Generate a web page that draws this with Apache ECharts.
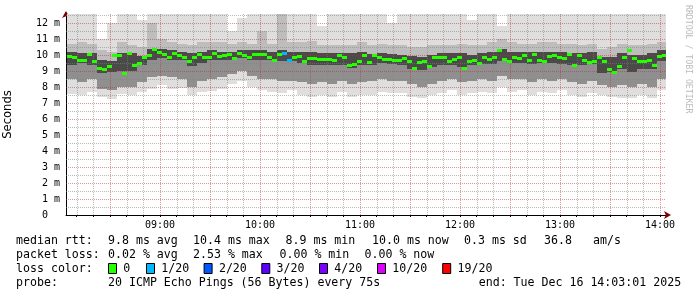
<!DOCTYPE html>
<html><head><meta charset="utf-8">
<script src="https://cdn.jsdelivr.net/npm/echarts@6/dist/echarts.min.js"></script>
<style>html,body{margin:0;padding:0;background:#fff}#c{width:697px;height:297px}</style>
</head><body><div id="c"></div>
<script>
// ---- time axis (minutes since midnight) ----
const startMin = 483.6;   // 08:03:01 (graph start)
const endMin = 843.6;     // 14:03:01 (graph end)
const yMax = 12.5625;     // ms, top of plot
const medianT0 = 484.2;   // first median sample
const medianStep = 3;     // minutes per median sample
const smokeT0 = 484.2;
const smokeStep = 6;      // minutes per smoke column

// ---- median rtt (ms), one value per 3 minutes ----
const median = [
  9.94, 9.87, 9.67, 9.67, 10.08, 9.6, 9.19, 9.15, 9.3, 10.02,
  9.98, 8.87, 10.1, 9.4, 9.5, 9.9, 9.98, 10.4, 10.2, 10.05,
  9.87, 10.15, 10.0, 9.9, 9.6, 9.9, 10.08, 9.9, 9.9, 10.1,
  9.95, 9.98, 10.05, 9.8, 10.1, 10.0, 9.9, 10.05, 10.08, 10.05,
  9.9, 9.7, 10.05, 10.1, 9.7, 9.9, 9.95, 9.6, 9.82, 9.82,
  9.75, 9.75, 9.72, 9.7, 10.0, 9.9, 9.35, 9.45, 9.6, 9.98,
  9.55, 10.0, 9.9, 9.75, 9.75, 9.7, 9.67, 9.8, 9.6, 9.2,
  9.55, 9.65, 9.3, 9.85, 9.85, 9.85, 9.6, 9.75, 9.85, 9.2,
  9.6, 9.7, 9.5, 9.85, 9.72, 9.85, 10.3, 9.75, 9.65, 9.9,
  9.8, 9.98, 9.7, 10.05, 9.7, 9.65, 9.95, 10.02, 9.9, 9.82,
  10.05, 9.4, 10.02, 9.7, 9.55, 9.6, 9.9, 9.6, 9.1, 8.92,
  9.3, 9.9, 10.3, 9.8, 9.62, 9.65, 9.7, 9.4, 9.95, 10.02
];
// [median sample index, lost pings out of 20]
const lossPoints = [[43, 1], [44, 1]];

// ---- smoke envelope (ms), one column per 6 minutes ----
const smokeTop = [
  12.6, 12.6, 12.6, 11.0, 12.0, 12.6, 12.6, 12.2, 12.6, 12.6, 12.6, 12.6, 12.6, 12.6, 12.6,
  12.6, 11.5, 12.3, 12.6, 12.6, 12.6, 12.6, 12.6, 12.6, 12.6, 11.8, 12.6, 12.6, 12.6, 12.6,
  12.6, 12.6, 12.0, 12.6, 12.6, 12.6, 12.6, 12.6, 12.6, 12.6, 12.2, 12.6, 12.6, 11.8, 12.6,
  12.6, 12.6, 12.6, 12.6, 12.6, 12.6, 12.6, 12.6, 12.6, 12.6, 12.6, 12.6, 12.6, 12.6, 12.6
];
const smokeBottom = [
  7.58, 7.48, 7.69, 7.38, 7.27, 7.58, 7.48, 7.69, 7.9, 8.1, 7.9, 7.95, 7.48, 7.69, 7.75,
  7.9, 8.2, 8.4, 8.0, 7.8, 7.7, 7.6, 7.8, 7.5, 7.4, 7.5, 7.4, 7.7, 7.4, 7.5,
  7.5, 7.7, 7.6, 7.6, 7.4, 7.3, 7.5, 7.6, 7.8, 7.5, 7.6, 7.7, 7.6, 8.0, 7.7,
  7.8, 7.5, 7.7, 7.6, 7.8, 7.5, 7.4, 7.6, 7.5, 7.4, 7.3, 7.3, 7.5, 7.3, 7.8
];
const midHi = [
  10.7, 10.8, 10.7, 10.3, 10.2, 10.8, 10.6, 10.5, 12.0, 11.0, 10.8, 10.7, 10.6, 10.8, 10.8,
  10.8, 10.7, 10.8, 10.7, 11.5, 10.7, 12.6, 10.8, 10.8, 10.9, 10.6, 10.6, 10.6, 10.6, 10.8,
  10.6, 10.7, 10.6, 10.6, 10.5, 10.5, 10.6, 10.6, 10.6, 10.7, 10.6, 10.6, 10.8, 11.0, 10.8,
  10.7, 10.7, 10.8, 10.8, 10.7, 10.7, 10.6, 10.7, 10.4, 10.5, 10.7, 10.6, 10.6, 10.7, 10.8
];
const midLo = [
  8.5, 8.3, 8.5, 7.9, 7.8, 8.0, 8.0, 8.3, 8.6, 8.7, 8.6, 8.5, 8.0, 8.4, 8.5,
  8.6, 8.8, 9.0, 8.7, 8.5, 8.5, 8.4, 8.4, 8.3, 8.2, 8.3, 8.2, 8.4, 8.2, 8.3,
  8.4, 8.5, 8.4, 8.4, 8.2, 8.0, 8.2, 8.4, 8.5, 8.3, 8.4, 8.5, 8.4, 8.7, 8.5,
  8.5, 8.3, 8.5, 8.4, 8.5, 8.3, 8.2, 8.4, 8.1, 8.0, 8.1, 8.0, 8.2, 8.0, 8.5
];
const coreHi = [
  10.2, 10.1, 10.15, 9.7, 9.6, 10.1, 10.1, 9.95, 10.4, 10.4, 10.3, 10.2, 10.1, 10.2, 10.3,
  10.2, 10.2, 10.3, 10.3, 10.3, 10.2, 10.3, 10.2, 10.2, 10.2, 10.1, 10.1, 10.1, 10.1, 10.2,
  10.05, 10.1, 10.05, 10.0, 9.95, 9.9, 10.0, 10.1, 10.1, 10.1, 10.0, 10.1, 10.2, 10.4, 10.2,
  10.2, 10.2, 10.2, 10.2, 10.2, 10.1, 10.1, 10.2, 9.85, 9.9, 10.1, 10.0, 10.0, 10.1, 10.3
];
const coreLo = [
  9.4, 9.5, 9.4, 8.9, 8.95, 9.0, 9.0, 9.35, 9.7, 9.8, 9.7, 9.7, 9.3, 9.5, 9.7,
  9.7, 9.7, 9.8, 9.7, 9.7, 9.7, 9.6, 9.6, 9.5, 9.4, 9.4, 9.35, 9.4, 9.2, 9.35,
  9.35, 9.5, 9.45, 9.35, 9.15, 9.05, 9.25, 9.4, 9.4, 9.25, 9.35, 9.45, 9.45, 9.6, 9.5,
  9.5, 9.45, 9.5, 9.5, 9.45, 9.35, 9.35, 9.45, 8.85, 8.95, 9.15, 8.95, 9.15, 9.15, 9.6
];

// ---- ticks / grid ----
const xLabelTicks = [540, 600, 660, 720, 780, 840];
const xMajorGrid = [510, 540, 570, 600, 630, 660, 690, 720, 750, 780, 810, 840];
const xMinorGrid = [490, 500, 520, 530, 550, 560, 580, 590, 610, 620, 640, 650, 670, 680, 700, 710,
                    730, 740, 760, 770, 790, 800, 820, 830];
const yLabelTicks = [0, 1, 2, 3, 4, 5, 6, 7, 8, 9, 10, 11, 12];
const yMajorGrid = [1, 2, 3, 4, 5, 6, 7, 8, 9, 10, 11, 12];
const yMinorGrid = [0.5, 1.5, 2.5, 3.5, 4.5, 5.5, 6.5, 7.5, 8.5, 9.5, 10.5, 11.5, 12.5];

const lossColors = {0: '#26ff00', 1: '#00b8ff', 2: '#0059ff', 3: '#5e00ff', 4: '#7e00ff', 10: '#dd00ff', 19: '#ff0000'};
const lossLegend = [['0', 0], ['1/20', 1], ['2/20', 2], ['3/20', 3], ['4/20', 4], ['10/20', 10], ['19/20', 19]];

const statsRtt = ['9.8 ms avg', '10.4 ms max', '8.9 ms min', '10.0 ms now', '0.3 ms sd', '36.8', 'am/s'];
const statsLoss = ['0.02 % avg', '2.53 % max', '0.00 % min', '0.00 % now'];
const probeText = '20 ICMP Echo Pings (56 Bytes) every 75s';
const endText = 'end: Tue Dec 16 14:03:01 2025';

// ---- build ----
const MONO = 'DejaVu Sans Mono';
const lossByIdx = {};
lossPoints.forEach(p => { lossByIdx[p[0]] = p[1]; });
const medianData = median.map((v, i) => [medianT0 + i * medianStep, v, lossByIdx[i] || 0]);
const smokeData = smokeTop.map((t, k) => [smokeT0 + k * smokeStep, smokeBottom[k], t, midLo[k], midHi[k], coreLo[k], coreHi[k]]);

function pad(n) { return (n < 10 ? '0' : '') + n; }
function fmtTime(v) { return pad(Math.floor(v / 60)) + ':' + pad(Math.round(v % 60)); }

function rectBetween(api, x0, x1, y0, y1, color) {
  const a = api.coord([x0, y1]);
  const b = api.coord([x1, y0]);
  return { type: 'rect', shape: { x: Math.round(a[0]), y: Math.round(a[1]), width: Math.round(b[0]) - Math.round(a[0]), height: Math.round(b[1]) - Math.round(a[1]) }, style: { fill: color } };
}

function gridSeries(values, vertical, color) {
  return {
    type: 'custom', xAxisIndex: 0, yAxisIndex: 0, z: 3, silent: true, clip: true,
    data: values.map(v => [v]),
    encode: vertical ? { x: 0 } : { y: 0 },
    renderItem: function (params, api) {
      const v = api.value(0);
      let p1, p2;
      if (vertical) { p1 = api.coord([v, 0]); p2 = api.coord([v, yMax]); }
      else { p1 = api.coord([startMin, v]); p2 = api.coord([endMin, v]); }
      const shape = vertical
        ? { x1: Math.round(p1[0]) + 0.5, y1: Math.round(p1[1]), x2: Math.round(p2[0]) + 0.5, y2: Math.round(p2[1]) }
        : { x1: Math.round(p1[0]), y1: Math.round(p1[1]) + 0.5, x2: Math.round(p2[0]), y2: Math.round(p2[1]) + 0.5 };
      return { type: 'line', shape: shape, style: { stroke: color, lineWidth: 1, lineDash: [1, 1] } };
    }
  };
}

const graphics = [];
function txt(x, y, s) {
  graphics.push({ type: 'text', x: x, y: y, style: { text: s, font: '11.6px ' + MONO, fill: '#000', verticalAlign: 'middle' } });
}
const L1 = 241, L2 = 255, L3 = 269, L4 = 283;
txt(16, L1, 'median rtt:');
[108, 193, 285.5, 372, 464, 544, 593].forEach((x, i) => txt(x, L1, statsRtt[i]));
txt(16, L2, 'packet loss:');
[108, 193, 279.5, 364.5].forEach((x, i) => txt(x, L2, statsLoss[i]));
txt(16, L3, 'loss color:');
[108, 146, 203.6, 261.3, 319, 377, 442.2].forEach((x, i) => {
  graphics.push({ type: 'rect', shape: { x: x + 0.5, y: L3 - 5.5, width: 8, height: 10 }, style: { fill: lossColors[lossLegend[i][1]], stroke: '#000', lineWidth: 1 } });
  txt(x + 15.3, L3, lossLegend[i][0]);
});
txt(16, L4, 'probe:');
txt(108, L4, probeText);
txt(478.7, L4, endText);
graphics.push({ type: 'text', x: 692, y: 5, rotation: -Math.PI / 2, style: { text: 'RRDTOOL / TOBI OETIKER', font: '8.2px ' + MONO, fill: '#bbbbbb', verticalAlign: 'top' } });

const chart = echarts.init(document.getElementById('c'), null, { renderer: 'canvas' });
chart.setOption({
  animation: false,
  backgroundColor: '#ffffff',
  grid: { left: 66, top: 14, width: 600, height: 201, containLabel: false, outerBoundsMode: 'none' },
  xAxis: [{
    type: 'value', min: startMin, max: endMin, position: 'bottom',
    axisLine: { show: true, onZero: false, lineStyle: { color: '#000', width: 1 } },
    axisTick: { show: true, customValues: xMajorGrid.concat(xMinorGrid), length: 2, lineStyle: { color: '#000' } },
    axisLabel: { customValues: xLabelTicks, formatter: fmtTime, fontFamily: MONO, fontSize: 10, color: '#000', margin: 5 },
    splitLine: { show: false }
  }, {
    type: 'value', min: startMin, max: endMin, position: 'bottom', gridIndex: 0,
    axisLine: { show: true, onZero: false, symbol: ['none', 'arrow'], symbolSize: [6, 7], symbolOffset: [0, 5], lineStyle: { color: '#7f0000', width: 0 } },
    axisTick: { show: false }, axisLabel: { show: false }, splitLine: { show: false }
  }],
  yAxis: [{
    type: 'value', min: 0, max: yMax,
    name: 'Seconds', nameLocation: 'middle', nameRotate: 90, nameGap: 52,
    nameTextStyle: { fontFamily: 'DejaVu Sans', fontSize: 11.6, color: '#000' },
    axisLine: { show: true, onZero: false, lineStyle: { color: '#000', width: 1 } },
    axisTick: { show: false },
    axisLabel: { customValues: yLabelTicks, formatter: v => v === 0 ? '0  ' : v + ' m', fontFamily: MONO, fontSize: 10, color: '#000', margin: 6 },
    splitLine: { show: false }
  }, {
    type: 'value', min: 0, max: yMax, position: 'left', gridIndex: 0,
    axisLine: { show: true, onZero: false, symbol: ['none', 'arrow'], symbolSize: [6, 7], symbolOffset: [0, 3], lineStyle: { color: '#7f0000', width: 0 } },
    axisTick: { show: false }, axisLabel: { show: false }, splitLine: { show: false }
  }],
  series: [
    {
      type: 'custom', xAxisIndex: 0, yAxisIndex: 0, z: 2, silent: true, clip: true,
      data: smokeData,
      encode: { x: 0, y: [1, 2] },
      renderItem: function (params, api) {
        const t0 = api.value(0), t1 = t0 + smokeStep;
        return { type: 'group', children: [
          rectBetween(api, t0, t1, api.value(1), api.value(2), '#dedede'),
          rectBetween(api, t0, t1, api.value(6), api.value(4), '#bdbdbd'),
          rectBetween(api, t0, t1, api.value(3), api.value(5), '#8f8f8f'),
          rectBetween(api, t0, t1, api.value(5), api.value(6), '#4a4a4a')
        ] };
      }
    },
    gridSeries(xMinorGrid, true, 'rgba(130,130,130,0.55)'),
    gridSeries(yMinorGrid, false, 'rgba(130,130,130,0.55)'),
    gridSeries(xMajorGrid, true, 'rgba(200,40,40,0.5)'),
    gridSeries(yMajorGrid, false, 'rgba(200,40,40,0.5)'),
    {
      type: 'custom', xAxisIndex: 0, yAxisIndex: 0, z: 4, silent: true, clip: true,
      data: medianData,
      encode: { x: 0, y: 1 },
      renderItem: function (params, api) {
        const t = api.value(0);
        const a = api.coord([t, api.value(1)]);
        const b = api.coord([t + medianStep, api.value(1)]);
        const x0 = Math.round(a[0]), x1 = Math.round(b[0]);
        return { type: 'rect', shape: { x: x0, y: Math.round(a[1]) - 1, width: x1 - x0, height: 3 }, style: { fill: lossColors[api.value(2)] } };
      }
    }
  ],
  graphic: graphics
});
</script>
</body></html>
